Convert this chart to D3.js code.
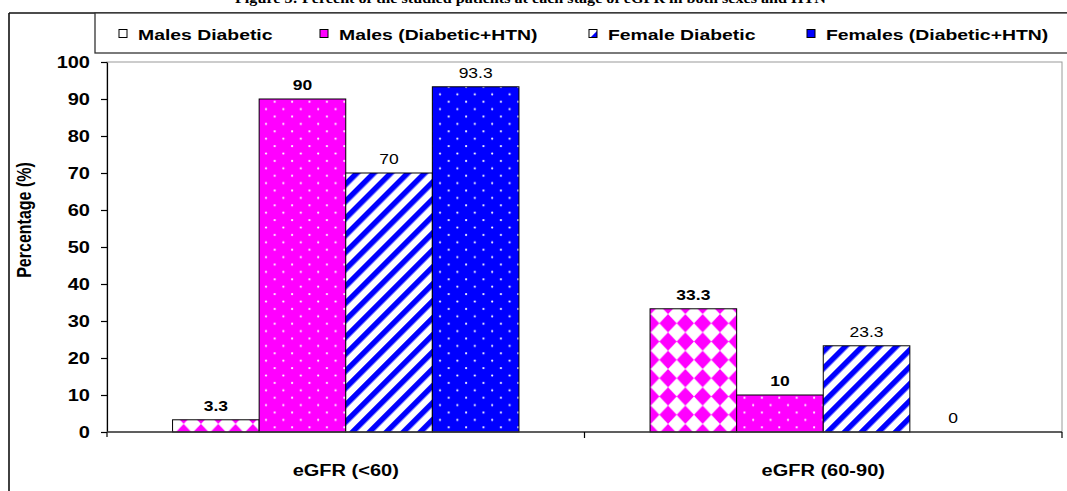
<!DOCTYPE html>
<html>
<head>
<meta charset="utf-8">
<script src="https://cdn.jsdelivr.net/npm/d3@7"></script>
<style>
  html, body { margin: 0; padding: 0; background: #fff; }
  svg { display: block; }
  text { font-family: "Liberation Sans", Arial, sans-serif; fill: #000; }
</style>
</head>
<body>
<svg id="chart" width="1067" height="491"></svg>
<script>
// ---- data ----
const categories = ["eGFR (<60)", "eGFR (60-90)"];
const seriesNames = ["Males Diabetic", "Males (Diabetic+HTN)", "Female Diabetic", "Females (Diabetic+HTN)"];
const malesDiabetic = [3.3, 33.3];
const malesDiabeticHTN = [90, 10];
const femaleDiabetic = [70, 23.3];
const femalesDiabeticHTN = [93.3, 0];
const yTicks = [0, 10, 20, 30, 40, 50, 60, 70, 80, 90, 100];
const yTitle = "Percentage (%)";
const captionText = "Figure 3: Percent of the studied patients at each stage of eGFR in both sexes and HTN";

const seriesValues = [malesDiabetic, malesDiabeticHTN, femaleDiabetic, femalesDiabeticHTN];

// ---- layout ----
const W = 1067, H = 491;
const plot = { left: 107, right: 1062, top: 62, bottom: 432 };
const SX = 1.25;            // horizontal stretch applied to all lettering
const MAGENTA = "#FF00FF", BLUE = "#0000FF";

const svg = d3.select("#chart");
const defs = svg.append("defs");

// ---- fill patterns ----
// magenta diamonds on white
const pDiamond = defs.append("pattern").attr("id", "pat-diamond")
  .attr("patternUnits", "userSpaceOnUse").attr("width", 17.3).attr("height", 18.3)
  .attr("x", 2).attr("y", 3);
pDiamond.append("rect").attr("width", 17.3).attr("height", 18.3).attr("fill", "#fff");
pDiamond.append("polygon").attr("points", "8.65,0 17.3,9.15 8.65,18.3 0,9.15").attr("fill", MAGENTA);

// white dots on a solid colour
function dotPattern(id, colour) {
  const p = defs.append("pattern").attr("id", id)
    .attr("patternUnits", "userSpaceOnUse").attr("width", 17.4).attr("height", 14.8)
    .attr("x", 1).attr("y", 2);
  p.append("rect").attr("width", 17.4).attr("height", 14.8).attr("fill", colour);
  p.append("circle").attr("cx", 4).attr("cy", 3.5).attr("r", 1.1).attr("fill", "#fff");
  p.append("circle").attr("cx", 12.7).attr("cy", 10.9).attr("r", 1.1).attr("fill", "#fff");
}
dotPattern("pat-dot-magenta", MAGENTA);
dotPattern("pat-dot-blue", BLUE);

// blue "/" stripes on white
const stripeP = 12;
const pStripe = defs.append("pattern").attr("id", "pat-stripe")
  .attr("patternUnits", "userSpaceOnUse").attr("width", stripeP).attr("height", stripeP)
  .attr("patternTransform", "rotate(45)");
pStripe.append("rect").attr("width", stripeP).attr("height", stripeP).attr("fill", "#fff");
pStripe.append("rect").attr("width", 5.5).attr("height", stripeP).attr("fill", BLUE);

const seriesFill = ["url(#pat-diamond)", "url(#pat-dot-magenta)", "url(#pat-stripe)", "url(#pat-dot-blue)"];
const seriesLabelWeight = ["bold", "bold", "normal", "normal"];
const legendFill = ["#fff", MAGENTA, "url(#pat-stripe)", BLUE];

// stretched text helper
function stext(parent, x, y, str, size, weight, anchor, rotate) {
  return parent.append("text")
    .attr("transform", `translate(${x},${y}) scale(${SX},1)` + (rotate ? ` rotate(${rotate})` : ""))
    .attr("text-anchor", anchor || "middle")
    .style("font-size", size + "px")
    .style("font-weight", weight || "normal")
    .text(str);
}

// ---- caption (document text above the chart, running off the top) ----
svg.append("text")
  .attr("x", 235).attr("y", 3)
  .attr("textLength", 591).attr("lengthAdjust", "spacingAndGlyphs")
  .style("font-family", "'Liberation Serif', 'Times New Roman', serif")
  .style("font-size", "14px").style("font-weight", "bold")
  .text(captionText);

// ---- outer chart frame ----
svg.append("line").attr("x1", 9).attr("x2", W + 5).attr("y1", 13).attr("y2", 13)
  .attr("stroke", "#111").attr("stroke-width", 1.5);
svg.append("line").attr("x1", 9).attr("x2", 9).attr("y1", 13).attr("y2", H + 5)
  .attr("stroke", "#111").attr("stroke-width", 1.6);

// ---- scales ----
const x0 = d3.scaleBand().domain(categories).range([plot.left, plot.right]).padding(0);
const x1 = d3.scaleBand().domain(seriesNames).range([0, x0.bandwidth()])
  .paddingInner(0).paddingOuter(0.757);
const y = d3.scaleLinear().domain([0, 100]).range([plot.bottom, plot.top]);

// ---- plot area ----
svg.append("rect")
  .attr("x", plot.left).attr("y", plot.top)
  .attr("width", plot.right - plot.left).attr("height", plot.bottom - plot.top)
  .attr("fill", "#fff").attr("stroke", "#9a9a9a").attr("stroke-width", 1);

// ---- bars ----
const gBars = svg.append("g");
categories.forEach((cat, ci) => {
  seriesNames.forEach((s, si) => {
    const v = seriesValues[si][ci];
    const bx = x0(cat) + x1(s);
    if (v > 0) {
      gBars.append("rect")
        .attr("x", bx).attr("y", y(v))
        .attr("width", x1.bandwidth()).attr("height", y(0) - y(v))
        .attr("fill", seriesFill[si])
        .attr("stroke", "#000").attr("stroke-width", 1);
    }
    stext(gBars, bx + x1.bandwidth() / 2, y(v) - 9, String(v), 14, seriesLabelWeight[si], "middle");
  });
});

// ---- y axis ----
const gY = svg.append("g").attr("transform", `translate(${plot.left},0)`)
  .call(d3.axisLeft(y).tickValues(yTicks).tickSize(6).tickSizeOuter(0));
gY.select(".domain").attr("stroke", "#000").attr("stroke-width", 1.2);
gY.selectAll(".tick line").attr("stroke", "#000").attr("stroke-width", 1.2);
gY.selectAll(".tick text")
  .attr("x", null).attr("dy", "0.36em")
  .attr("transform", `translate(-17,0) scale(${SX},1)`)
  .style("font-family", "'Liberation Sans', Arial, sans-serif")
  .style("font-size", "16px").style("font-weight", "bold").attr("fill", "#000");
// axis extends slightly below the baseline
svg.append("line").attr("x1", plot.left).attr("x2", plot.left)
  .attr("y1", plot.bottom).attr("y2", plot.bottom + 5).attr("stroke", "#000").attr("stroke-width", 1.2);

// ---- x axis ----
svg.append("line").attr("x1", plot.left).attr("x2", plot.right)
  .attr("y1", plot.bottom).attr("y2", plot.bottom)
  .attr("stroke", "#3a3a3a").attr("stroke-width", 1.6);
const boundaries = categories.map(c => x0(c)).concat([plot.right]);
svg.append("g").selectAll("line").data(boundaries.slice(1)).join("line")
  .attr("x1", d => d).attr("x2", d => d)
  .attr("y1", plot.bottom).attr("y2", plot.bottom + 6)
  .attr("stroke", "#000").attr("stroke-width", 1.2);
categories.forEach(cat => {
  stext(svg, x0(cat) + x0.bandwidth() / 2, 476, cat, 16, "bold", "middle");
});

// ---- y title ----
stext(svg, 31, 220, yTitle, 16, "bold", "middle", -90);

// ---- legend ----
svg.append("rect").attr("x", 95).attr("y", 13).attr("width", 1000).attr("height", 40)
  .attr("fill", "#fff").attr("stroke", "#333").attr("stroke-width", 1.3);
const legendX = [119, 320, 589, 807];
seriesNames.forEach((s, i) => {
  svg.append("rect").attr("x", legendX[i]).attr("y", 29.5).attr("width", 8).attr("height", 8)
    .attr("fill", legendFill[i]).attr("stroke", "#000").attr("stroke-width", 1);
  stext(svg, legendX[i] + 19, 40, s, 15.5, "bold", "start");
});
</script>
</body>
</html>
